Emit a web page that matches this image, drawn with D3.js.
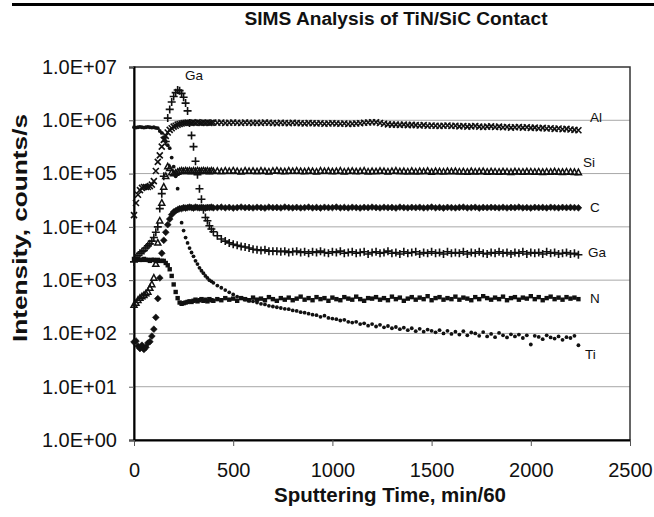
<!DOCTYPE html>
<html><head><meta charset="utf-8">
<script src="https://cdn.jsdelivr.net/npm/d3@7"></script>
<style>
body{margin:0;background:#fff}
svg{display:block}
text{font-family:"Liberation Sans",Arial,Helvetica,sans-serif}
</style>
</head><body><div id="chart"></div>
<script>
// ---------------- DATA ----------------
const chartTitle = "SIMS Analysis of TiN/SiC Contact";
const xAxisTitle = "Sputtering Time, min/60";
const yAxisTitle = "Intensity, counts/s";

const time = [0,10,20,30,40,50,60,70,80,90,100,110,120,130,140,150,160,170,180,190,200,210,220,230,240,250,260,270,280,290,300,310,320,330,340,350,360,370,380,390,400,
420,440,460,480,500,520,540,560,580,600,620,640,660,680,700,720,740,760,780,800,820,840,860,880,900,920,940,960,980,1000,1020,1040,1060,1080,1100,1120,1140,1160,1180,1200,1220,1240,1260,1280,1300,1320,1340,1360,1380,1400,1420,1440,1460,1480,1500,1520,1540,1560,1580,1600,1620,1640,1660,1680,1700,1720,1740,1760,1780,1800,1820,1840,1860,1880,1900,1920,1940,1960,1980,2000,2020,2040,2060,2080,2100,2120,2140,2160,2180,2200,2220,2240];

const alValues = [1.66e4,2.8e4,4.0e4,4.9e4,5.4e4,5.6e4,5.6e4,5.6e4,5.8e4,6.2e4,7.2e4,1.12e5,1.66e5,2.2e5,3.2e5,4.3e5,5.1e5,5.9e5,6.6e5,7.1e5,7.6e5,7.9e5,8.3e5,8.5e5,8.7e5,8.9e5,
9.0e5,9.1e5,9.0e5,8.9e5,9.1e5,9.0e5,9.2e5,9.0e5,8.9e5,9.1e5,9.0e5,9.1e5,8.9e5,9.0e5,9.1e5,
9.0e5,9.1e5,8.9e5,9.0e5,9.1e5,9.0e5,8.9e5,9.1e5,9.0e5,8.9e5,
9.0e5,8.9e5,9.1e5,9.0e5,8.9e5,8.8e5,9.0e5,8.9e5,8.8e5,9.0e5,
8.9e5,8.8e5,8.7e5,8.9e5,8.8e5,8.7e5,8.8e5,8.6e5,8.7e5,8.8e5,
8.7e5,8.6e5,8.7e5,8.5e5,8.6e5,8.7e5,8.8e5,9.0e5,9.1e5,9.2e5,
9.2e5,8.9e5,8.6e5,8.4e5,8.3e5,8.3e5,8.2e5,8.3e5,8.1e5,8.2e5,
8.1e5,8.0e5,8.1e5,7.9e5,8.0e5,7.9e5,7.8e5,7.9e5,8.0e5,7.8e5,
7.9e5,7.7e5,7.8e5,7.6e5,7.7e5,7.8e5,7.6e5,7.5e5,7.6e5,7.7e5,
7.5e5,7.6e5,7.4e5,7.5e5,7.3e5,7.4e5,7.5e5,7.3e5,7.4e5,7.2e5,
7.3e5,7.1e5,7.2e5,7.0e5,7.1e5,6.9e5,7.0e5,6.8e5,6.9e5,6.7e5,
6.6e5,6.5e5];

const siValues = [3.4e2,3.7e2,4.2e2,4.6e2,4.9e2,5.2e2,5.6e2,6.0e2,7.1e2,8.3e2,1.1e3,2.0e3,5.0e3,1.3e4,2.8e4,5.6e4,8.9e4,1.35e5,1.26e5,1.05e5,1.0e5,1.02e5,1.07e5,1.1e5,1.12e5,
1.1e5,1.13e5,1.1e5,1.12e5,1.09e5,1.12e5,1.1e5,1.13e5,1.1e5,1.11e5,1.13e5,1.1e5,1.12e5,1.09e5,1.12e5,1.1e5,
1.11e5,1.09e5,1.12e5,1.1e5,1.13e5,1.1e5,1.08e5,1.12e5,1.1e5,1.11e5,
1.09e5,1.12e5,1.1e5,1.08e5,1.11e5,1.13e5,1.1e5,1.09e5,1.12e5,1.1e5,
1.12e5,1.1e5,1.09e5,1.11e5,1.1e5,1.08e5,1.12e5,1.1e5,1.11e5,1.09e5,
1.1e5,1.12e5,1.08e5,1.1e5,1.11e5,1.09e5,1.1e5,1.12e5,1.08e5,1.1e5,
1.09e5,1.11e5,1.1e5,1.08e5,1.1e5,1.12e5,1.09e5,1.1e5,1.08e5,1.11e5,
1.08e5,1.1e5,1.09e5,1.11e5,1.07e5,1.1e5,1.09e5,1.08e5,1.1e5,1.09e5,
1.1e5,1.08e5,1.09e5,1.07e5,1.1e5,1.08e5,1.09e5,1.1e5,1.07e5,1.09e5,
1.08e5,1.07e5,1.09e5,1.08e5,1.06e5,1.09e5,1.08e5,1.07e5,1.09e5,1.08e5,
1.07e5,1.08e5,1.06e5,1.08e5,1.07e5,1.09e5,1.07e5,1.06e5,1.08e5,1.07e5,
1.06e5,1.05e5];

const cValues = [69,72,58,52,60,50,55,66,70,89,120,200,450,1.1e3,3.2e3,5.6e3,7.9e3,1.1e4,1.4e4,1.7e4,1.9e4,2.0e4,2.1e4,2.2e4,2.2e4,
2.3e4,2.25e4,2.3e4,2.35e4,2.3e4,2.25e4,2.35e4,2.3e4,2.28e4,2.33e4,2.3e4,2.26e4,2.32e4,2.3e4,2.35e4,2.28e4,
2.3e4,2.34e4,2.28e4,2.32e4,2.26e4,2.3e4,2.35e4,2.29e4,2.31e4,2.27e4,
2.33e4,2.3e4,2.26e4,2.34e4,2.29e4,2.31e4,2.27e4,2.35e4,2.3e4,2.28e4,
2.32e4,2.27e4,2.3e4,2.34e4,2.28e4,2.31e4,2.26e4,2.33e4,2.29e4,2.3e4,
2.35e4,2.28e4,2.31e4,2.27e4,2.33e4,2.3e4,2.26e4,2.32e4,2.29e4,2.34e4,
2.3e4,2.27e4,2.33e4,2.29e4,2.31e4,2.26e4,2.34e4,2.3e4,2.28e4,2.32e4,
2.29e4,2.33e4,2.27e4,2.3e4,2.35e4,2.28e4,2.31e4,2.26e4,2.32e4,2.3e4,
2.27e4,2.31e4,2.34e4,2.28e4,2.3e4,2.33e4,2.26e4,2.31e4,2.29e4,2.32e4,
2.3e4,2.28e4,2.33e4,2.27e4,2.31e4,2.29e4,2.34e4,2.28e4,2.3e4,2.26e4,
2.32e4,2.29e4,2.31e4,2.27e4,2.33e4,2.3e4,2.28e4,2.32e4,2.29e4,2.31e4,
2.3e4,2.28e4];

const gaValues = [2.2e3,2.6e3,2.9e3,3.2e3,3.4e3,3.6e3,4.0e3,4.4e3,4.8e3,5.4e3,6.3e3,7.9e3,1.0e4,2.2e4,4.2e4,8.9e4,4.0e5,1.1e6,1.6e6,2.2e6,2.8e6,3.3e6,3.7e6,3.6e6,3.2e6,2.7e6,2.1e6,1.5e6,8.9e5,5.2e5,3.2e5,1.7e5,9.5e4,5.2e4,3.3e4,2.1e4,1.5e4,1.3e4,1.05e4,9.1e3,8.1e3,
6.8e3,5.9e3,5.4e3,5.0e3,4.7e3,4.5e3,4.3e3,4.2e3,4.0e3,3.8e3,3.7e3,3.6e3,3.7e3,3.5e3,3.5e3,
3.5e3,3.4e3,3.5e3,3.3e3,3.4e3,3.5e3,3.3e3,3.4e3,3.2e3,3.4e3,
3.3e3,3.5e3,3.3e3,3.2e3,3.4e3,3.3e3,3.5e3,3.2e3,3.3e3,3.4e3,
3.2e3,3.3e3,3.4e3,3.1e3,3.3e3,3.4e3,3.2e3,3.3e3,3.5e3,3.2e3,
3.3e3,3.1e3,3.4e3,3.2e3,3.3e3,3.4e3,3.1e3,3.3e3,3.2e3,3.4e3,
3.2e3,3.3e3,3.1e3,3.4e3,3.2e3,3.3e3,3.2e3,3.4e3,3.1e3,3.3e3,
3.2e3,3.4e3,3.2e3,3.1e3,3.3e3,3.2e3,3.4e3,3.2e3,3.3e3,3.1e3,
3.3e3,3.2e3,3.4e3,3.1e3,3.3e3,3.2e3,3.3e3,3.1e3,3.4e3,3.2e3,
3.3e3,3.1e3,3.2e3,3.3e3,3.1e3,3.2e3,3.0e3];

const nValues = [2.5e3,2.4e3,2.5e3,2.4e3,2.4e3,2.5e3,2.4e3,2.4e3,2.3e3,2.4e3,2.4e3,2.3e3,2.4e3,2.3e3,2.3e3,2.3e3,
2.1e3,1.9e3,1.6e3,1.2e3,8.3e2,6.0e2,4.6e2,3.8e2,3.6e2,3.7e2,3.8e2,3.9e2,4.0e2,
3.9e2,4.1e2,4.3e2,4.0e2,4.2e2,4.4e2,4.1e2,4.3e2,4.0e2,4.4e2,4.2e2,4.1e2,
4.4e2,4.2e2,4.6e2,4.3e2,4.5e2,4.1e2,4.6e2,4.4e2,4.2e2,4.7e2,
4.3e2,4.5e2,4.2e2,4.8e2,4.4e2,4.1e2,4.6e2,4.3e2,4.7e2,4.2e2,
4.5e2,4.9e2,4.3e2,4.6e2,4.2e2,4.8e2,4.4e2,4.6e2,4.1e2,4.7e2,
4.4e2,4.2e2,4.8e2,4.5e2,4.3e2,4.9e2,4.4e2,4.1e2,4.6e2,4.5e2,
4.8e2,4.3e2,4.6e2,4.2e2,4.9e2,4.4e2,4.7e2,4.1e2,4.5e2,4.8e2,
4.3e2,4.7e2,4.4e2,5.0e2,4.2e2,4.6e2,4.8e2,4.3e2,4.6e2,4.4e2,
4.9e2,4.3e2,4.7e2,4.5e2,4.2e2,4.8e2,4.4e2,5.0e2,4.6e2,4.3e2,
4.7e2,4.4e2,4.9e2,4.2e2,4.6e2,4.8e2,4.3e2,4.7e2,4.5e2,5.0e2,
4.4e2,4.8e2,4.2e2,4.6e2,4.9e2,4.4e2,4.7e2,4.3e2,4.8e2,4.5e2,
4.7e2,4.4e2];

const tiValues = [7.4e5,7.3e5,7.4e5,7.5e5,7.4e5,7.3e5,7.4e5,7.5e5,7.4e5,7.3e5,7.4e5,7.2e5,
7.1e5,6.3e5,5.8e5,4.8e5,4.0e5,3.4e5,3.0e5,2.0e5,1.35e5,8.9e4,5.2e4,2.2e4,1.2e4,8.5e3,6.3e3,5.0e3,4.0e3,3.3e3,2.8e3,2.3e3,2.0e3,1.7e3,1.5e3,1.35e3,1.2e3,1.1e3,1.0e3,9.5e2,8.9e2,
7.9e2,7.2e2,6.5e2,5.9e2,5.4e2,4.9e2,4.6e2,4.3e2,4.1e2,4.0e2,3.8e2,3.6e2,3.5e2,3.3e2,3.2e2,
310,300,290,285,270,265,250,245,235,225,
220,205,215,195,190,185,175,180,165,160,
165,150,155,140,150,135,145,130,138,125,
132,120,128,115,125,110,122,108,118,112,
105,115,100,112,98,108,95,110,92,104,
100,90,106,88,98,85,102,92,84,96,
88,95,82,92,62,90,86,78,92,84,
80,88,76,85,82,90,60];

const seriesNames = ["Al","Si","C","Ga","N","Ti"];
const yTickValues = [1,10,100,1e3,1e4,1e5,1e6,1e7];
const yTickLabels = ["1.0E+00","1.0E+01","1.0E+02","1.0E+03","1.0E+04","1.0E+05","1.0E+06","1.0E+07"];
const xTickValues = [0,500,1000,1500,2000,2500];
const xTickLabels = ["0","500","1000","1500","2000","2500"];

// ---------------- CHART ----------------
const W = 654, H = 517;
const plot = {left:134, right:630, top:67, bottom:440};

const svg = d3.select("#chart").append("svg").attr("width", W).attr("height", H);

// top rule
svg.append("rect").attr("x", 12).attr("y", 3).attr("width", W - 12).attr("height", 3).attr("fill", "#000");

const x = d3.scaleLinear().domain([0, 2500]).range([plot.left, plot.right]);
const y = d3.scaleLog().domain([1, 1e7]).range([plot.bottom, plot.top]);

// gridlines
svg.append("g").selectAll("line").data(yTickValues.slice(1, -1)).join("line")
  .attr("x1", plot.left).attr("x2", plot.right)
  .attr("y1", d => y(d)).attr("y2", d => y(d))
  .attr("stroke", "#a8a8a8").attr("stroke-width", 1);

// plot frame (top/right)
svg.append("rect").attr("x", plot.left).attr("y", plot.top)
  .attr("width", plot.right - plot.left).attr("height", plot.bottom - plot.top)
  .attr("fill", "none").attr("stroke", "#333").attr("stroke-width", 1.5);

// y axis
const yAxis = svg.append("g").attr("transform", `translate(${plot.left},0)`)
  .call(d3.axisLeft(y).tickValues(yTickValues).tickFormat((d, i) => yTickLabels[i]).tickSize(5).tickPadding(12));
yAxis.select(".domain").attr("stroke", "#000").attr("stroke-width", 2);
yAxis.selectAll(".tick line").attr("stroke", "#555");
yAxis.selectAll(".tick text").attr("font-size", 20).attr("fill", "#111")
  .attr("font-family", '"Liberation Sans", Arial, sans-serif');

// x axis
const xAxis = svg.append("g").attr("transform", `translate(0,${plot.bottom})`)
  .call(d3.axisBottom(x).tickValues(xTickValues).tickFormat((d, i) => xTickLabels[i]).tickSize(6).tickPadding(17).tickSizeOuter(0));
xAxis.select(".domain").attr("stroke", "#000").attr("stroke-width", 2);
xAxis.selectAll(".tick line").attr("stroke", "#555");
xAxis.selectAll(".tick text").attr("font-size", 20).attr("fill", "#111")
  .attr("font-family", '"Liberation Sans", Arial, sans-serif');

// markers
const markers = {
  Al: {d: "M-3,-3L3,3M-3,3L3,-3", fill: "none", stroke: "#111", sw: 1.6},
  Si: {d: "M0,-3.3L3,2.2L-3,2.2Z", fill: "none", stroke: "#111", sw: 1.5},
  C:  {d: "M0,-3.4L3.4,0L0,3.4L-3.4,0Z", fill: "#111", stroke: "#111", sw: 0.6},
  Ga: {d: "M-4,0H4M0,-4V4", fill: "none", stroke: "#111", sw: 1.6},
  N:  {d: "M-2.2,-2.2H2.2V2.2H-2.2Z", fill: "#111", stroke: "none", sw: 0},
  Ti: {d: "M0,-1.9A1.9,1.9 0 1,1 0,1.9A1.9,1.9 0 1,1 0,-1.9Z", fill: "#111", stroke: "none", sw: 0}
};
const seriesValues = [alValues, siValues, cValues, gaValues, nValues, tiValues];
const series = seriesNames.map((name, i) => ({
  name, points: time.map((t, j) => ({t, v: seriesValues[i][j]}))
}));

const drawOrder = ["Ti","N","C","Si","Al","Ga"];
drawOrder.forEach(name => {
  const s = series.find(d => d.name === name);
  const m = markers[name];
  svg.append("g").attr("class", "series-" + name)
    .selectAll("path").data(s.points.filter(p => p.v != null)).join("path")
    .attr("transform", p => `translate(${x(p.t)},${y(p.v)})`)
    .attr("d", m.d).attr("fill", m.fill).attr("stroke", m.stroke).attr("stroke-width", m.sw);
});

// series labels
const labelPos = {Al:[590,122], Si:[583,167], C:[590,212], Ga:[588,257], N:[590,303], Ti:[585,359]};
seriesNames.forEach(n => {
  svg.append("text").attr("x", labelPos[n][0]).attr("y", labelPos[n][1])
    .attr("font-size", 13.5).attr("fill", "#111").text(n);
});
svg.append("text").attr("x", 185).attr("y", 80).attr("font-size", 13.5).attr("fill", "#111").text("Ga");

// titles
svg.append("text").attr("x", 396).attr("y", 25).attr("text-anchor", "middle")
  .attr("font-size", 18).attr("font-weight", "bold").attr("fill", "#111")
  .attr("textLength", 303).attr("lengthAdjust", "spacingAndGlyphs").text(chartTitle);
svg.append("text").attr("x", 390).attr("y", 502).attr("text-anchor", "middle")
  .attr("font-size", 20.5).attr("font-weight", "bold").attr("fill", "#111").text(xAxisTitle);
svg.append("text").attr("transform", "translate(27,228) rotate(-90)").attr("text-anchor", "middle")
  .attr("font-size", 20).attr("font-weight", "bold").attr("fill", "#111")
  .attr("textLength", 228).attr("lengthAdjust", "spacingAndGlyphs").text(yAxisTitle);
</script>
</body></html>
